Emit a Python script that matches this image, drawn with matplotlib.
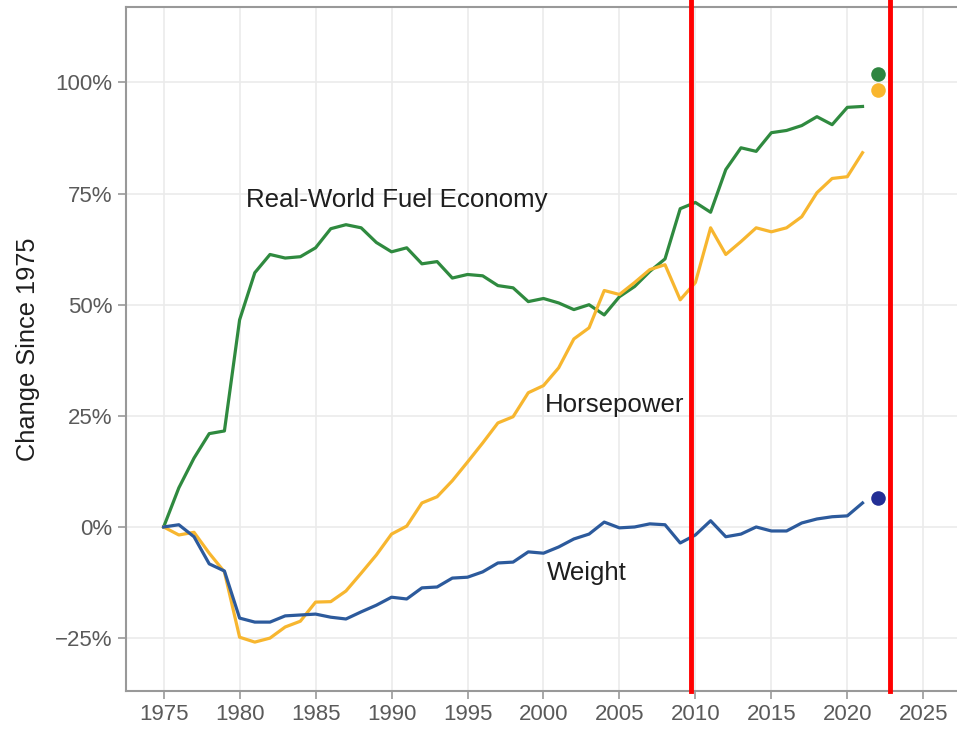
import matplotlib
matplotlib.use("Agg")
import matplotlib.pyplot as plt
from matplotlib.ticker import FuncFormatter

plt.rcParams['font.family'] = ['Liberation Sans', 'DejaVu Sans']

years = list(range(1975, 2022))

fuel_economy = [0, 8.8, 15.5, 21.0, 21.6, 46.6, 57.2, 61.3, 60.5, 60.8,
                62.8, 67.1, 68.0, 67.3, 64.0, 61.9, 62.8, 59.2, 59.7, 56.0,
                56.8, 56.5, 54.3, 53.8, 50.7, 51.4, 50.4, 48.9, 50.0, 47.7,
                51.8, 54.1, 57.5, 60.3, 71.6, 73.0, 70.8, 80.4, 85.3, 84.5,
                88.7, 89.2, 90.3, 92.3, 90.5, 94.4, 94.6]

horsepower = [0, -1.8, -1.2, -5.9, -10.1, -24.8, -25.9, -25.0, -22.5, -21.2,
              -16.9, -16.8, -14.4, -10.4, -6.3, -1.6, 0.2, 5.4, 6.8, 10.4,
              14.6, 18.9, 23.4, 24.8, 30.2, 31.8, 35.8, 42.3, 44.8, 53.2,
              52.3, 55.0, 57.9, 59.0, 51.1, 55.0, 67.3, 61.3, 64.2, 67.3,
              66.4, 67.3, 69.8, 75.2, 78.4, 78.8, 84.2]

weight = [0, 0.5, -2.2, -8.3, -9.9, -20.5, -21.4, -21.4, -20.0, -19.8,
          -19.6, -20.3, -20.7, -19.1, -17.6, -15.8, -16.2, -13.7, -13.5, -11.5,
          -11.3, -10.1, -8.1, -7.9, -5.6, -5.9, -4.5, -2.7, -1.6, 1.1,
          -0.2, 0.0, 0.7, 0.5, -3.6, -1.8, 1.4, -2.2, -1.6, 0.0,
          -0.9, -0.9, 0.9, 1.8, 2.3, 2.5, 5.4]

# preliminary 2022 values, shown as single points
prelim_year = 2022
prelim_fuel = 101.8
prelim_hp = 98.2
prelim_weight = 6.5

marker_years = [2009.74, 2022.83]

GREEN = '#2f8a3f'
YELLOW = '#f7b62f'
BLUE = '#2c5a9c'

fig = plt.figure(figsize=(9.57, 7.33), dpi=100)
ax = fig.add_axes([0.1313, 0.0573, 0.87, 0.9327])

ax.plot(years, fuel_economy, color=GREEN, lw=2.3, zorder=3)
ax.plot(years, horsepower, color=YELLOW, lw=2.3, zorder=3)
ax.plot(years, weight, color=BLUE, lw=2.3, zorder=3)

ax.scatter([prelim_year], [prelim_fuel], s=110, color='#2e8540', zorder=4, linewidths=0)
ax.scatter([prelim_year], [prelim_hp], s=110, color='#f9b62e', zorder=4, linewidths=0)
ax.scatter([prelim_year], [prelim_weight], s=110, color='#232f96', zorder=4, linewidths=0)

txt = dict(fontsize=18.6, color='#1e1e1e', va='center', ha='left')
ax.text(1980.4, 73.6, 'Real-World Fuel Economy', **txt)
ax.text(2000.1, 27.5, 'Horsepower', **txt)
ax.text(2000.2, -10.4, 'Weight', **txt)

for yr in marker_years:
    ax.axvline(yr, ymin=0, ymax=1.02, color='#ff0000', lw=3.5, zorder=5, clip_on=False)

ax.set_xlim(1972.5, 2027.3)
ax.set_ylim(-36.9, 116.9)
ax.set_xticks(range(1975, 2030, 5))
ax.set_yticks([-25, 0, 25, 50, 75, 100])
ax.yaxis.set_major_formatter(FuncFormatter(lambda v, p: f'{v:.0f}%'.replace('-', '\u2212')))

ax.grid(True, color='#ebebeb', lw=1.2)
ax.set_axisbelow(True)
for side in ['left', 'bottom', 'top']:
    ax.spines[side].set_color('#999999')
    ax.spines[side].set_linewidth(1.5)
ax.spines['right'].set_visible(False)
ax.tick_params(axis='both', colors='#999999', labelcolor='#5a5a5a', labelsize=16,
               length=6, width=1.2)

ax.set_ylabel('Change Since 1975', fontsize=18.3, color='#1e1e1e', labelpad=11)

fig.savefig('out.png', dpi=100)
